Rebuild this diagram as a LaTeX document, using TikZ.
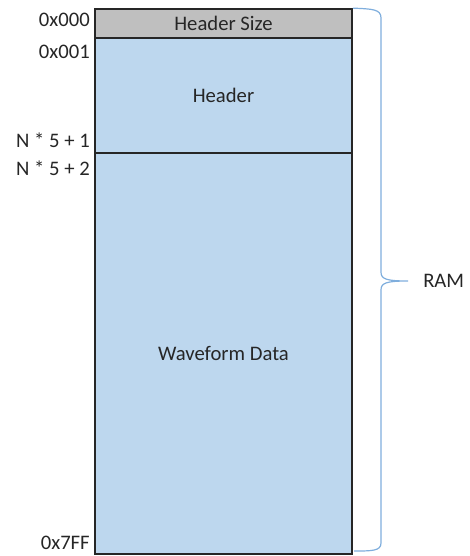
\documentclass[tikz,border=0pt]{standalone}
\usepackage{fontspec}
\setmainfont{Carlito}
\definecolor{hdrgray}{HTML}{BFBFBF}
\definecolor{ramblue}{HTML}{BDD7EE}
\definecolor{bracecol}{HTML}{7FAEDD}
\definecolor{txtcol}{HTML}{262626}
\begin{document}
\begin{tikzpicture}[x=0.75pt,y=-0.75pt,
  seg/.style={draw=black!85,line width=1.3pt,inner sep=0pt,minimum width=192.75pt,font=\fontsize{15.5}{17}\selectfont,text=txtcol},
  addr/.style={anchor=east,inner sep=0pt,font=\fontsize{15.5}{17}\selectfont,text=txtcol}]
\useasboundingbox (0,0) rectangle (470,556);
\node[seg,fill=hdrgray,minimum height=21.75pt] (hs) at (223.5,23.5) {Header Size};
\node[seg,fill=ramblue,minimum height=86.25pt] (hd) at (223.5,95.5) {Header};
\node[seg,fill=ramblue,minimum height=300.75pt] (wf) at (223.5,353.5) {Waveform Data};
\node[addr] (a0) at (90,20) {0x000};
\node[addr] (a1) at (90,52) {0x001};
\node[addr] (a2) at (90,140) {N * 5 + 1};
\node[addr] (a3) at (90,168) {N * 5 + 2};
\node[addr] (a4) at (90,543) {0x7FF};
\node[anchor=west,inner sep=0pt,font=\fontsize{15.5}{17}\selectfont,text=txtcol] (ram) at (423,281) {RAM};
\coordinate (tip) at (408,281);
\draw[bracecol,line width=0.9pt]
  (hs.north east) .. controls (372,9) and (381,9) .. (381,18)
  -- (381,272) .. controls (381,279) and (386,281) .. (tip)
  .. controls (386,281) and (381,283) .. (381,290)
  -- (381,543) .. controls (381,551) and (372,551) .. (354,551);
\end{tikzpicture}
\end{document}
